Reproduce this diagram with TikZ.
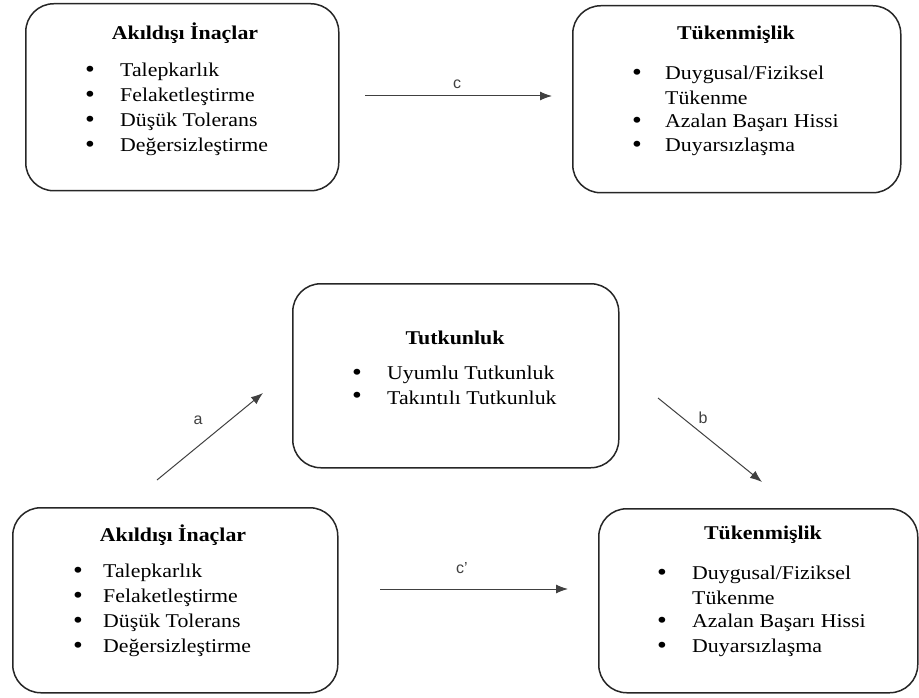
\documentclass[tikz,border=0pt]{standalone}
\usepackage{fontspec}
\setmainfont{Liberation Serif}[FakeStretch=1.12]
\newfontfamily\pathfont{Liberation Sans}
\usetikzlibrary{arrows.meta}

\tikzset{
  panel/.style={draw=black!85, line width=1.5pt, rounded corners=28pt, anchor=north west},
  heading/.style={font=\fontsize{19.5}{23}\selectfont\bfseries},
  entry/.style={font=\fontsize{19.5}{23}\selectfont, anchor=west, inner sep=0pt},
  dot/.style={font=\fontsize{25}{25}\selectfont, inner sep=0pt},
  link/.style={-{Latex[length=12pt,width=9pt]}, line width=1pt, draw=black!75},
  pathlabel/.style={font=\pathfont\fontsize{16}{18}\selectfont, text=black!75},
}

\begin{document}
\begin{tikzpicture}[x=1pt, y=-1pt]
\useasboundingbox (0,0) rectangle (919,698);

% first model: direct path only
\node[panel, minimum width=313pt, minimum height=187pt] (beliefTop) at (25,3) {};
\node[heading] (beliefTopT) at (185,33) {Akıldışı İnaçlar};
\foreach \t/\yy [count=\i] in {Talepkarlık/72, Felaketleştirme/97, Düşük Tolerans/122, Değersizleştirme/147} {
    \node[dot] at (90,\yy) {\textbullet};
    \node[entry] (beliefTop-\i) at (120,\yy) {\t};
}

\node[panel, minimum width=328pt, minimum height=187pt] (burnTop) at (572,5) {};
\node[heading] (burnTopT) at (736,35) {Tükenmişlik};
\foreach \yy in {75, 123, 147}
    \node[dot] at (637,\yy) {\textbullet};
\foreach \t/\yy [count=\i] in {{Duygusal/Fiziksel}/75, Tükenme/98, Azalan Başarı Hissi/123, Duyarsızlaşma/147}
    \node[entry] (burnTop-\i) at (665,\yy) {\t};

\coordinate (cFrom) at (365,96);
\coordinate (cTo) at (552,96);
\draw[link] (cFrom) -- (cTo);
\node[pathlabel] (cLab) at (457,84) {c};

% second model: passion as mediator
\node[panel, minimum width=326pt, minimum height=184pt] (passion) at (292,283) {};
\node[heading] (passionT) at (455,338) {Tutkunluk};
\foreach \t/\yy [count=\i] in {Uyumlu Tutkunluk/375, Takıntılı Tutkunluk/398} {
    \node[dot] at (357,\yy) {\textbullet};
    \node[entry] (passion-\i) at (387,\yy) {\t};
}

\node[panel, minimum width=325pt, minimum height=185pt] (beliefBot) at (12,507) {};
\node[heading] (beliefBotT) at (173,535) {Akıldışı İnaçlar};
\foreach \t/\yy [count=\i] in {Talepkarlık/573, Felaketleştirme/598, Düşük Tolerans/623, Değersizleştirme/648} {
    \node[dot] at (78,\yy) {\textbullet};
    \node[entry] (beliefBot-\i) at (103,\yy) {\t};
}

\node[panel, minimum width=319pt, minimum height=184pt] (burnBot) at (598,508) {};
\node[heading] (burnBotT) at (763,535) {Tükenmişlik};
\foreach \yy in {575, 623, 648}
    \node[dot] at (662,\yy) {\textbullet};
\foreach \t/\yy [count=\i] in {{Duygusal/Fiziksel}/575, Tükenme/598, Azalan Başarı Hissi/623, Duyarsızlaşma/648}
    \node[entry] (burnBot-\i) at (692,\yy) {\t};

% paths a, b and c'
\coordinate (aFrom) at (157,480);
\coordinate (aTo) at (263,393);
\coordinate (bFrom) at (658,398);
\coordinate (bTo) at (762,482);
\coordinate (dFrom) at (380,589);
\coordinate (dTo) at (568,589);
\draw[link] (aFrom) -- (aTo);
\draw[link] (bFrom) -- (bTo);
\draw[link] (dFrom) -- (dTo);
\node[pathlabel] (aLab) at (198,420) {a};
\node[pathlabel] (bLab) at (703,418) {b};
\node[pathlabel] (dLab) at (462,568) {c’};
\end{tikzpicture}
\end{document}
